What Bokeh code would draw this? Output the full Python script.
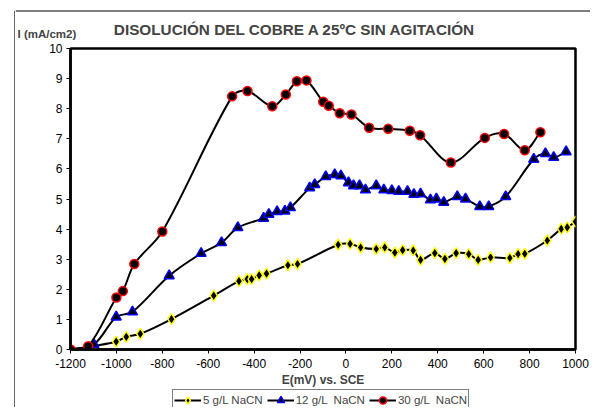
import numpy as np
from bokeh.plotting import figure
from bokeh.models import Range1d, Label, Legend, LegendItem, FixedTicker
from bokeh.layouts import column, row
from bokeh.embed import file_html
from bokeh.resources import INLINE

# ---- data ----
E5 = [-1200, -1100, -1001, -957, -896, -760, -576, -466, -430, -411, -378, -346, -253, -211,
      -34, 18, 64, 132, 169, 213, 247, 293, 325, 387, 431, 480, 535, 576, 630, 714, 750, 779,
      877, 938, 964, 1000]
I5 = [0.0, 0.12, 0.26, 0.42, 0.52, 1.01, 1.79, 2.27, 2.34, 2.34, 2.46, 2.52, 2.80, 2.84,
      3.48, 3.51, 3.39, 3.34, 3.39, 3.22, 3.30, 3.29, 2.98, 3.20, 3.01, 3.20, 3.17, 2.98, 3.06,
      3.04, 3.17, 3.18, 3.62, 4.01, 4.06, 4.25]

E12 = [-1200, -1098, -1001, -930, -770, -631, -542, -471, -359, -336, -300, -266, -242, -158,
       -136, -88, -49, -22, 11, 33, 59, 85, 132, 165, 200, 230, 268, 296, 325, 368, 394, 426,
       485, 521, 583, 622, 696, 818, 869, 905, 959]
I12 = [0.0, 0.17, 1.08, 1.25, 2.45, 3.19, 3.55, 4.05, 4.36, 4.49, 4.58, 4.60, 4.71, 5.37,
       5.48, 5.74, 5.81, 5.77, 5.54, 5.44, 5.44, 5.30, 5.44, 5.30, 5.28, 5.25, 5.25, 5.15, 5.17,
       4.97, 5.00, 4.89, 5.08, 5.00, 4.75, 4.75, 5.08, 6.32, 6.51, 6.38, 6.57]

E30 = [-1200, -1123, -1000, -972, -922, -800, -496, -429, -321, -262, -214, -172, -99, -75,
       -27, 24, 101, 184, 278, 323, 457, 605, 689, 779, 847]
I30 = [0.0, 0.11, 1.73, 1.94, 2.84, 3.92, 8.41, 8.59, 8.08, 8.47, 8.91, 8.94, 8.23, 8.10,
       7.85, 7.81, 7.37, 7.33, 7.27, 7.12, 6.21, 7.03, 7.16, 6.62, 7.22]

SERIES = ["5 g/L NaCN", "12 g/L  NaCN", "30 g/L  NaCN"]
X_TICKS = list(range(-1200, 1001, 200))
Y_TICKS = list(range(0, 11))
TITLE = "DISOLUCIÓN DEL COBRE A 25ºC SIN AGITACIÓN"
Y_LABEL = "I (mA/cm2)"
X_LABEL = "E(mV) vs. SCE"

X_MIN, X_MAX = -1200, 1000
Y_MIN, Y_MAX = 0, 10

FONT = "Liberation Sans"

W = 575                      # width of every stacked figure
FRAME_W, FRAME_H = 505, 302  # plot-area size in pixels
PX_PER_X = FRAME_W / (X_MAX - X_MIN)
PX_PER_Y = FRAME_H / (Y_MAX - Y_MIN)
EDGE_X, EDGE_Y = 15, 11      # offset of the chart-area border
TOP_H, MAIN_H, LEG_H = 43, 346, 18


def smooth_segments(xs, ys):
    """Bezier control points for an Excel-like smoothed line through the data
    (Catmull-Rom tangents, scaled by the on-screen segment lengths)."""
    x = np.asarray(xs, float)
    y = np.asarray(ys, float)
    qx = np.concatenate([[x[0]], x, [x[-1]]])
    qy = np.concatenate([[y[0]], y, [y[-1]]])
    d = np.hypot(np.diff(qx) * PX_PER_X, np.diff(qy) * PX_PER_Y)
    i = np.arange(len(x) - 1)
    dprev, dcur, dnext = d[i], d[i + 1], d[i + 2]
    f0 = dcur / np.maximum(dprev + dcur, 1e-9) / 3.0
    f1 = dcur / np.maximum(dcur + dnext, 1e-9) / 3.0
    cx0 = qx[i + 1] + (qx[i + 2] - qx[i]) * f0
    cy0 = qy[i + 1] + (qy[i + 2] - qy[i]) * f0
    cx1 = qx[i + 2] - (qx[i + 3] - qx[i + 1]) * f1
    cy1 = qy[i + 2] - (qy[i + 3] - qy[i + 1]) * f1
    return dict(x0=x[:-1], y0=y[:-1], x1=x[1:], y1=y[1:], cx0=cx0, cy0=cy0, cx1=cx1, cy1=cy1)


def strip(width, height):
    f = figure(width=width, height=height, x_range=Range1d(0, width), y_range=Range1d(0, height),
               output_backend="svg", toolbar_location=None,
               x_axis_location=None, y_axis_location=None, min_border=0)
    f.frame_align = False
    f.background_fill_color = "white"
    f.border_fill_color = "white"
    f.outline_line_color = None
    f.xgrid.visible = False
    f.ygrid.visible = False
    return f


TOTAL_H = TOP_H + MAIN_H + LEG_H

# ---------- left edge of the chart-area border ----------
p_vline = strip(EDGE_X, TOTAL_H)
p_vline.segment(x0=[EDGE_X - 0.5], y0=[0], x1=[EDGE_X - 0.5], y1=[TOTAL_H - EDGE_Y + 0.5],
                line_color="black", line_width=1.2)

# ---------- title strip (with top edge of the border) ----------
p_top = strip(W, TOP_H)
p_top.segment(x0=[0], y0=[TOP_H - EDGE_Y + 0.5], x1=[W], y1=[TOP_H - EDGE_Y + 0.5],
              line_color="black", line_width=1.2)
p_top.add_layout(Label(x=279.5, y=14, text=TITLE, text_font=FONT, text_font_style="bold",
                       text_font_size="15.3px", text_align="center", text_baseline="middle"))
p_top.add_layout(Label(x=2, y=10, text=Y_LABEL, text_font=FONT, text_font_style="bold",
                       text_font_size="11.5px", text_align="left", text_baseline="middle"))

# ---------- main chart ----------
p = figure(width=W, height=MAIN_H,
           x_range=Range1d(X_MIN, X_MAX), y_range=Range1d(Y_MIN, Y_MAX),
           output_backend="svg", toolbar_location=None,
           min_border_left=55, min_border_top=5, min_border_right=15, min_border_bottom=39)
p.frame_align = False
p.background_fill_color = "white"
p.border_fill_color = "white"
p.outline_line_color = "black"
p.outline_line_width = 2.5
p.xgrid.visible = False
p.ygrid.visible = False

for ax in (p.xaxis[0], p.yaxis[0]):
    ax.axis_line_width = 2.5
    ax.axis_line_color = "black"
    ax.major_tick_in = 0
    ax.major_tick_out = 4
    ax.major_tick_line_width = 1
    ax.minor_tick_line_color = None
    ax.major_label_text_font = FONT
    ax.major_label_text_font_size = "12px"
    ax.major_label_text_color = "black"

p.xaxis.ticker = FixedTicker(ticks=X_TICKS)
p.yaxis.ticker = FixedTicker(ticks=Y_TICKS)
p.xaxis.major_label_overrides = {t: str(t) for t in X_TICKS}
p.yaxis.major_label_overrides = {t: str(t) for t in Y_TICKS}
p.xaxis.major_label_standoff = 5
p.yaxis.major_label_standoff = 4
p.xaxis.axis_label = X_LABEL
p.xaxis.axis_label_text_font = FONT
p.xaxis.axis_label_text_font_style = "bold"
p.xaxis.axis_label_text_font_size = "12px"
p.xaxis.axis_label_standoff = 2

styles = [
    (E5, I5, "diamond", "#FFFF00", 11),
    (E12, I12, "triangle", "#0000FF", 10),
    (E30, I30, "circle", "#FF0000", 9),
]

for xs, ys, marker, col, size in styles:
    seg = smooth_segments(xs, ys)
    p.bezier(x0="x0", y0="y0", x1="x1", y1="y1", cx0="cx0", cy0="cy0",
             cx1="cx1", cy1="cy1", source=seg, line_color="black", line_width=2)
    p.scatter(xs, ys, marker=marker, size=size, fill_color="black",
              line_color=col, line_width=1.5)

# ---------- legend strip ----------
p_leg = strip(W, LEG_H)
items = []
for (xs, ys, marker, col, size), name in zip(styles, SERIES):
    # NaN placeholders: nothing is drawn in the strip itself, only the legend swatch
    lr = p_leg.line([np.nan, np.nan], [np.nan, np.nan], line_color="black", line_width=2)
    sr = p_leg.scatter([np.nan], [np.nan], marker=marker, size=size, fill_color="black",
                       line_color=col, line_width=1.5)
    items.append(LegendItem(label=name, renderers=[lr, sr]))

legend = Legend(items=items, orientation="horizontal", location=(157, -4))
legend.label_text_font = FONT
legend.label_text_font_size = "11.5px"
legend.label_height = 12
legend.glyph_height = 18
legend.glyph_width = 27
legend.label_standoff = 2
legend.spacing = 4
legend.padding = 1
legend.margin = 0
legend.border_line_color = "black"
legend.border_line_width = 1
legend.background_fill_color = "white"
legend.background_fill_alpha = 1.0
p_leg.add_layout(legend)

inner = column(p_top, p, p_leg, spacing=0)
lay = row(p_vline, inner, spacing=0)

open("out.html", "w").write(file_html(lay, INLINE))
